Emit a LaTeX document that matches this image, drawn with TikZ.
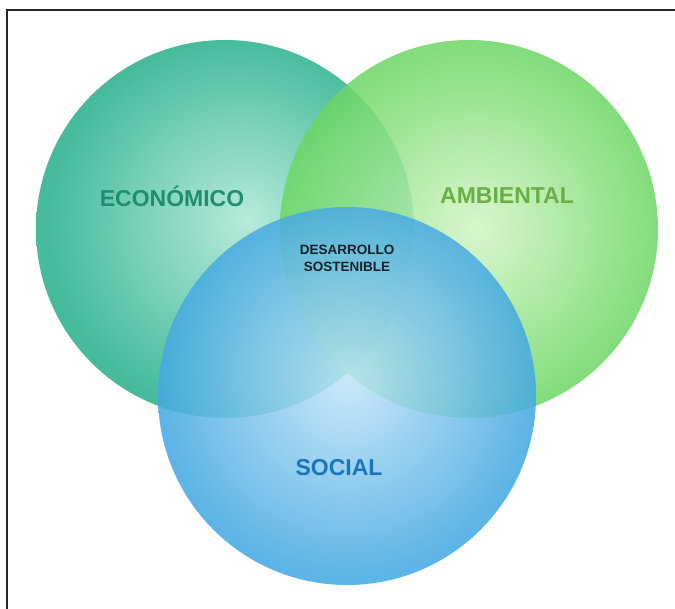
\documentclass[tikz,border=0pt]{standalone}
\usepackage{fontspec}
\setmainfont{Liberation Sans}

\definecolor{ecoin}{HTML}{B8EADB}
\definecolor{ecoout}{HTML}{45BB9C}
\definecolor{ambin}{HTML}{D4F6C6}
\definecolor{ambout}{HTML}{6CD764}
\definecolor{socin}{HTML}{C2E5F8}
\definecolor{socout}{HTML}{43A8E2}
\definecolor{ecotxt}{HTML}{1F8E70}
\definecolor{ambtxt}{HTML}{6AAF45}
\definecolor{soctxt}{HTML}{1B75BA}
\definecolor{dstxt}{HTML}{15202A}

\pgfdeclareradialshading{ecoshade}{\pgfpoint{3bp}{1bp}}{color(0bp)=(ecoin); color(25bp)=(ecoout); color(50bp)=(ecoout)}
\pgfdeclareradialshading{ambshade}{\pgfpoint{1bp}{0bp}}{color(0bp)=(ambin); color(25bp)=(ambout); color(50bp)=(ambout)}
\pgfdeclareradialshading{socshade}{\pgfpoint{0bp}{2bp}}{color(0bp)=(socin); color(25bp)=(socout); color(50bp)=(socout)}

\begin{document}
\begin{tikzpicture}[x=1pt,y=-1pt,
    lbl/.style={font=\bfseries\fontsize{23}{23}\selectfont, inner sep=0pt},
    core/.style={font=\bfseries\fontsize{13.5}{17}\selectfont, align=center, text=dstxt, inner sep=0pt}]
    \useasboundingbox (0,0) rectangle (675,609);
    \fill[white] (0,0) rectangle (675,609);
    \draw[line width=1.2pt, black!85] (7,609) |- (675,10);
    % the three circles
    \shade[shading=ecoshade] (225,229) circle (189);
    \shade[shading=ambshade, opacity=0.85] (469,229) circle (189);
    \shade[shading=socshade, opacity=0.86] (347,396) circle (189);
    % labels
    \node[lbl, text=ecotxt] (eco) at (172,196) {ECONÓMICO};
    \node[lbl, text=ambtxt] (amb) at (507,196) {AMBIENTAL};
    \node[lbl, text=soctxt] (soc) at (339,468) {SOCIAL};
    \node[core] (ds) at (347,258) {DESARROLLO\\SOSTENIBLE};
\end{tikzpicture}
\end{document}
